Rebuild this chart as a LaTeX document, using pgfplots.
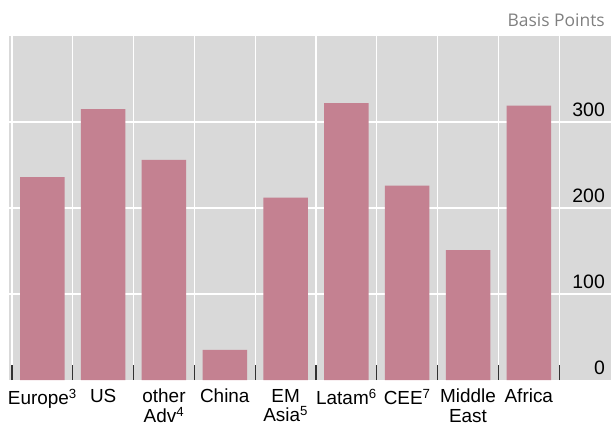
\documentclass[border=0pt]{standalone}
\usepackage{pgfplots}
\pgfplotsset{compat=1.18}
\usepackage{fontspec}
\setmainfont{Liberation Sans}
\newfontfamily\unitfont{Open Sans}
\definecolor{bggray}{RGB}{217,217,217}
\definecolor{barrose}{RGB}{196,129,145}
\definecolor{tickdark}{RGB}{50,50,50}

\begin{document}
\begin{tikzpicture}[x=1bp,y=1bp]
\path[use as bounding box] (0,0) rectangle (611,428);
\node[anchor=east, text=gray, font=\unitfont\fontsize{17.5}{19}\selectfont, inner sep=0] at (605,408) {Basis Points};
\begin{axis}[
    at={(9bp,48bp)}, anchor=south west,
    scale only axis, width=602bp, height=344bp,
    xmin=-0.549, xmax=9.352, ymin=0, ymax=400,
    axis background/.style={fill=bggray},
    axis line style={draw=none},
    ybar, bar width=44.5bp,
    xtick={0,...,8},
    xticklabels={Europe\textsuperscript{3}, US, other\\Adv\textsuperscript{4}, China,
        EM\\Asia\textsuperscript{5}, Latam\textsuperscript{6}, CEE\textsuperscript{7},
        Middle\\East, Africa},
    minor xtick={-0.5,0.5,...,8.5},
    xminorgrids, minor grid style={white, line width=1.3bp},
    major tick length=0pt,
    minor tick length=15bp,
    tick align=inside,
    xtick pos=lower,
    minor tick style={tickdark, line width=1.3bp},
    ytick={100,200,300},
    extra y ticks={0},
    extra y tick style={grid=none},
    ymajorgrids, major grid style={white, line width=1.3bp},
    yticklabel pos=right,
    yticklabel style={anchor=east, inner sep=0pt, xshift=-6bp, yshift=12bp,
        font=\fontsize{19.5}{21}\selectfont},
    xticklabel style={align=center, anchor=north, inner sep=0pt, yshift=-9bp,
        font=\fontsize{19}{19.5}\selectfont},
    /pgf/number format/assume math mode=true,
]
\addplot[fill=barrose, draw=none] coordinates {
    (0,236) (1,315) (2,256) (3,35) (4,212) (5,322) (6,226) (7,151) (8,319)
};
\end{axis}
\end{tikzpicture}
\end{document}
